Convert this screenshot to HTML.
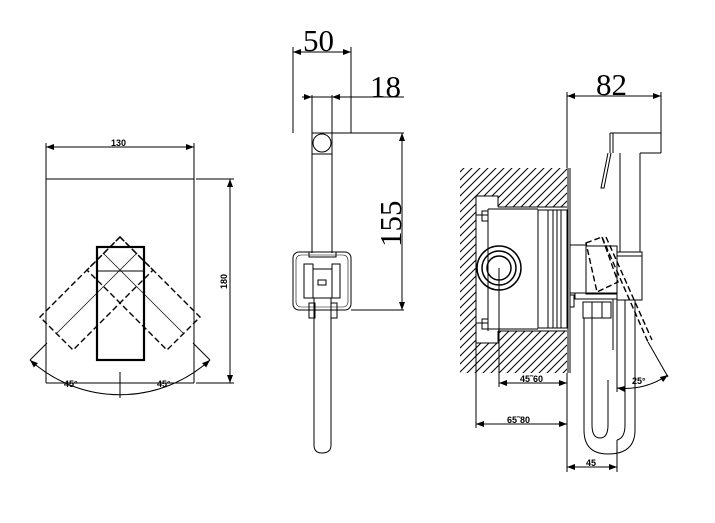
<!DOCTYPE html>
<html><head><meta charset="utf-8"><style>
html,body{margin:0;padding:0;background:#fff;}
svg{display:block;}
text{font-family:"Liberation Serif",serif;fill:#000;}
.s{font-family:"Liberation Sans",sans-serif;font-size:9px;font-weight:bold;}
</style></head><body>
<svg width="715" height="523" viewBox="0 0 715 523" xmlns="http://www.w3.org/2000/svg">
<defs>
<pattern id="h" width="8" height="8" patternUnits="userSpaceOnUse">
<path d="M0,8 L8,0 M-2,2 L2,-2 M6,10 L10,6" stroke="#000" stroke-width="1"/>
</pattern>
<marker id="a" markerWidth="8" markerHeight="6" refX="8" refY="3" orient="auto-start-reverse" markerUnits="userSpaceOnUse">
<path d="M0,0 L8,3 L0,6 z" fill="#000"/></marker>
</defs>
<g fill="none" stroke="#000" stroke-width="1">
<!-- LEFT VIEW -->
<line x1="46" y1="147" x2="194" y2="147" marker-start="url(#a)" marker-end="url(#a)"/>
<line x1="46" y1="143" x2="46" y2="383"/>
<line x1="194" y1="143" x2="194" y2="383"/>
<line x1="46" y1="179" x2="194" y2="179"/>
<line x1="46" y1="383" x2="194" y2="383"/>
<line x1="196" y1="179" x2="234" y2="179"/>
<line x1="196" y1="383" x2="234" y2="383"/>
<line x1="230" y1="179" x2="230" y2="383" marker-start="url(#a)" marker-end="url(#a)"/>
<rect x="97" y="247" width="47" height="113" stroke-width="2.2"/>
<line x1="97" y1="271" x2="144" y2="271"/>
<g stroke-dasharray="6,3" stroke-width="1.4">
<polygon points="120,237 40,317 73,350 153,270"/>
<polygon points="120,237 200,317 167,350 87,270"/>
</g>
<line x1="57" y1="333" x2="137" y2="253" stroke-width="0.7"/>
<line x1="183" y1="333" x2="103" y2="253" stroke-width="0.7"/>
<path d="M30,360 A134,134 0 0 0 210,360" marker-start="url(#a)" marker-end="url(#a)"/>
<line x1="30" y1="360" x2="47" y2="343"/>
<line x1="210" y1="360" x2="193" y2="343"/>
<line x1="120" y1="372" x2="120" y2="398"/>

<!-- MIDDLE VIEW -->
<line x1="293" y1="52" x2="351" y2="52" marker-start="url(#a)" marker-end="url(#a)"/>
<line x1="293" y1="47" x2="293" y2="133"/>
<line x1="351" y1="47" x2="351" y2="133"/>
<line x1="312" y1="97" x2="404" y2="97"/>
<path d="M302,97 L312,97" marker-end="url(#a)"/>
<path d="M342,97 L332,97" marker-end="url(#a)"/>
<line x1="312" y1="95" x2="312" y2="253"/>
<line x1="332" y1="95" x2="332" y2="253"/>
<line x1="312" y1="133" x2="404" y2="133"/>
<line x1="312" y1="154" x2="332" y2="154"/>
<circle cx="322" cy="143" r="9"/>
<line x1="402" y1="133" x2="402" y2="310" marker-start="url(#a)" marker-end="url(#a)"/>
<line x1="351" y1="310" x2="404" y2="310"/>
<rect x="293" y="252" width="58" height="58" rx="6"/>
<rect x="296" y="255" width="52" height="52" rx="5" stroke-width="0.6"/>
<rect x="309" y="252" width="27" height="5"/>
<rect x="304" y="264" width="9" height="34"/>
<rect x="332" y="264" width="8" height="34"/>
<rect x="313" y="269" width="19" height="29"/>
<rect x="318" y="280" width="8" height="5"/>
<rect x="309" y="303" width="6" height="15"/>
<rect x="331" y="303" width="6" height="15"/>
<path d="M314,298 L314,445 Q314,453 322,453 Q331,453 331,445 L331,298"/>

<!-- RIGHT VIEW -->
<path d="M460,168 L567,168 L567,373 L460,373 Z" fill="url(#h)" stroke="none"/>
<rect x="476" y="207" width="91" height="124" fill="#fff" stroke="none"/>
<rect x="476" y="196" width="22" height="147" fill="#fff" stroke="none"/>
<line x1="568" y1="168" x2="568" y2="373"/>
<line x1="570" y1="168" x2="570" y2="373"/>
<line x1="567" y1="96" x2="661" y2="96" marker-start="url(#a)" marker-end="url(#a)"/>
<line x1="567" y1="92" x2="567" y2="168"/>
<line x1="567" y1="373" x2="567" y2="472"/>
<line x1="661" y1="92" x2="661" y2="153"/>
<line x1="610" y1="133" x2="661" y2="133"/>
<line x1="610" y1="133" x2="610" y2="153"/>
<line x1="613" y1="133" x2="613" y2="153"/>
<line x1="640" y1="153" x2="661" y2="153"/>
<line x1="640" y1="153" x2="640" y2="252"/>
<line x1="620" y1="153" x2="620" y2="252"/>
<path d="M608,153 L601,188 L604,188 L611,153"/>
<!-- box -->
<path d="M498,207 L498,196 L476,196 L476,343 L498,343 L498,331"/>
<line x1="498" y1="207" x2="567" y2="207"/>
<line x1="498" y1="331" x2="567" y2="331"/>
<line x1="476" y1="215" x2="488" y2="215"/>
<line x1="476" y1="323" x2="488" y2="323"/>
<rect x="482" y="211" width="6" height="10"/>
<rect x="482" y="319" width="6" height="10"/>
<line x1="488" y1="209" x2="488" y2="331"/>
<line x1="488" y1="209" x2="538" y2="209"/>
<line x1="488" y1="329" x2="538" y2="329"/>
<rect x="538" y="210" width="29" height="118"/>
<line x1="548" y1="210" x2="548" y2="328"/>
<line x1="553" y1="210" x2="553" y2="328"/>
<line x1="557" y1="210" x2="557" y2="328"/>
<line x1="561" y1="210" x2="561" y2="328"/>
<circle cx="499" cy="268" r="22" stroke-width="1.5"/>
<circle cx="499" cy="268" r="17" stroke-width="1.5"/>
<circle cx="499" cy="268" r="12" stroke-width="1.5"/>
<line x1="499" y1="268" x2="499" y2="387"/>
<line x1="499" y1="383" x2="567" y2="383" marker-start="url(#a)" marker-end="url(#a)"/>
<line x1="476" y1="343" x2="476" y2="428"/>
<line x1="476" y1="424" x2="567" y2="424" marker-start="url(#a)" marker-end="url(#a)"/>
<!-- valve -->
<rect x="570" y="245" width="16" height="48"/>
<rect x="586" y="246" width="31" height="48"/>
<rect x="617" y="252" width="25" height="48"/>
<line x1="617" y1="256" x2="642" y2="256"/>
<rect x="575" y="293" width="42" height="6"/>
<rect x="570" y="295" width="4" height="12"/>
<rect x="583" y="302" width="28" height="16"/>
<line x1="592" y1="302" x2="592" y2="318"/>
<line x1="602" y1="302" x2="602" y2="318"/>
<line x1="613" y1="299" x2="613" y2="350"/>
<line x1="617" y1="299" x2="617" y2="392"/>
<path d="M584,318 L584,430 Q584,454 608,454 Q635,454 635,430 L635,300"/>
<path d="M592,318 L592,425 Q592,438 600,438 Q608,438 608,425 L608,380"/>
<path d="M625,300 L625,425 Q625,438 617,440"/>
<g stroke-dasharray="6,3" stroke-width="1.4">
<polygon points="586,243 602,237 618,282 597,292"/>
<line x1="602" y1="237" x2="648" y2="342"/>
<line x1="606" y1="237" x2="652" y2="340"/>
</g>
<line x1="648" y1="342" x2="668" y2="377"/>
<path d="M617,388 A75,75 0 0 0 668,375" marker-start="url(#a)" marker-end="url(#a)"/>
<line x1="567" y1="467" x2="617" y2="467" marker-start="url(#a)" marker-end="url(#a)"/>
<line x1="617" y1="440" x2="617" y2="472"/>
</g>
<text class="s" x="111" y="146">130</text>
<text class="s" x="0" y="0" transform="translate(227,289) rotate(-90)">180</text>
<text class="s" x="64" y="387">45°</text>
<text class="s" x="157" y="387">45°</text>
<text x="303" y="51" font-size="31">50</text>
<text x="370" y="97" font-size="31">18</text>
<text x="0" y="0" font-size="31" transform="translate(401,247) rotate(-90)">155</text>
<text x="596" y="95" font-size="31">82</text>
<text class="s" x="520" y="382">45˜60</text>
<text class="s" x="507" y="423">65˜80</text>
<text class="s" x="586" y="466">45</text>
<text class="s" x="632" y="384">25°</text>
</svg>
</body></html>
